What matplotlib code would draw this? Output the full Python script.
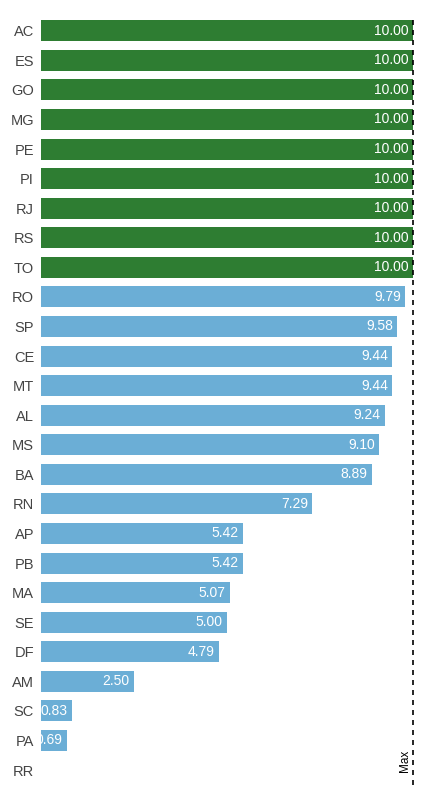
import matplotlib.pyplot as plt

plt.rcParams["font.family"] = ["Liberation Sans", "DejaVu Sans"]

states = ["AC", "ES", "GO", "MG", "PE", "PI", "RJ", "RS", "TO", "RO", "SP", "CE",
          "MT", "AL", "MS", "BA", "RN", "AP", "PB", "MA", "SE", "DF", "AM", "SC",
          "PA", "RR"]
scores = [10.00, 10.00, 10.00, 10.00, 10.00, 10.00, 10.00, 10.00, 10.00, 9.79,
          9.58, 9.44, 9.44, 9.24, 9.10, 8.89, 7.29, 5.42, 5.42, 5.07, 5.00, 4.79,
          2.50, 0.83, 0.69, 0.00]
max_score = 10

GREEN = "#2e7d32"
BLUE = "#6baed6"

fig = plt.figure(figsize=(4.47, 8), dpi=100)
ax = fig.add_axes([41 / 447, 0.019, 379 / 447, 0.961])

y = list(range(len(states)))
colors = [GREEN if s >= max_score else BLUE for s in scores]
ax.barh(y, scores, height=0.71, color=colors)

# value labels inside bar ends, clipped at the axis edge
for yi, s in zip(y, scores):
    if s <= 0:
        continue
    ax.annotate(f"{s:.2f}", (s, yi), xytext=(-3, 0), textcoords="offset points",
                ha="right", va="center", color="white", fontsize=10,
                annotation_clip=False, clip_on=True)

ax.axvline(max_score, color="black", linestyle=(0, (3, 3)), linewidth=1.2)
ax.annotate("Max", (max_score, len(states) - 1.3), xytext=(-1.5, 0),
            textcoords="offset points", rotation=90, ha="right", va="center",
            fontsize=8.5, color="black")

ax.set_xlim(0, 10.19)
ax.set_ylim(len(states) - 0.5, -0.5)
ax.set_yticks(y)
ax.set_yticklabels(states, fontsize=10.5, color="#444444")
ax.tick_params(axis="y", length=0, pad=5)
ax.set_xticks([])
for spine in ax.spines.values():
    spine.set_visible(False)

fig.savefig("out.png", dpi=100)
